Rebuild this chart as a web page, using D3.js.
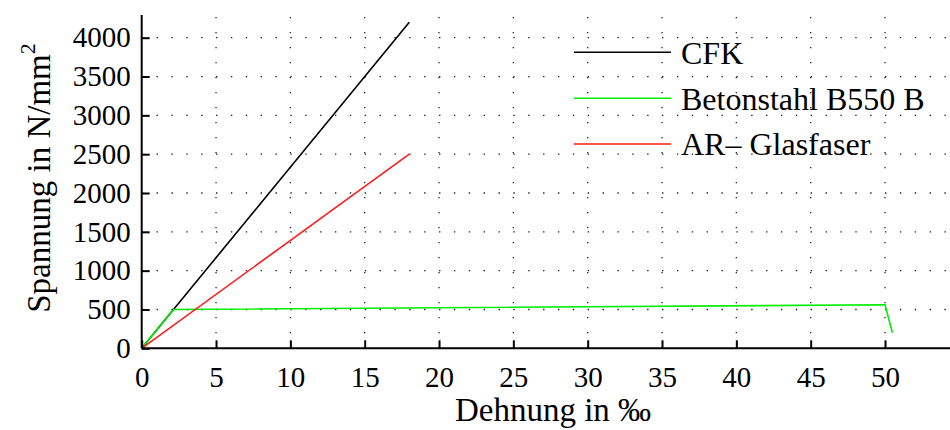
<!DOCTYPE html>
<html>
<head>
<meta charset="utf-8">
<script src="https://cdn.jsdelivr.net/npm/d3@7.9.0/dist/d3.min.js"></script>
<style>
  body { margin: 0; background: #fff; }
  svg { display: block; }
  svg text { font-family: "Liberation Serif", "DejaVu Serif", "Noto Serif", Tinos, "Nimbus Roman", FreeSerif, "Times New Roman", Times, serif; }
</style>
</head>
<body>
<svg id="chart" width="950" height="430"></svg>
<script>
// data (strain in per mille, stress in N/mm^2)
const seriesNames = ['CFK', 'Betonstahl B550 B', 'AR\u2013 Glasfaser'];
const seriesColors = ['#000000', '#00ee00', '#ff1a1a'];
const cfkStrain = [0, 18];
const cfkStress = [0, 4200];
const stahlStrain = [0, 2.15, 50, 50.5];
const stahlStress = [0, 500, 560, 200];
const glasStrain = [0, 18];
const glasStress = [0, 2500];
const xTicks = [0, 5, 10, 15, 20, 25, 30, 35, 40, 45, 50];
const yTicks = [0, 500, 1000, 1500, 2000, 2500, 3000, 3500, 4000];

const svg = d3.select('#chart');
const plotLeft = 141.7, plotBottom = 348.3, plotTop = 15, plotRight = 950;

const x = d3.scaleLinear().domain([0, 55]).range([plotLeft, plotLeft + 55 * 14.866]);
const y = d3.scaleLinear().domain([0, 4000]).range([plotBottom, 37.7]);

// dotted grid
const grid = svg.append('g');
const unit = x(1) - x(0);
xTicks.filter(d => d > 0).forEach(d => {
  grid.append('line')
    .attr('x1', x(d)).attr('x2', x(d))
    .attr('y1', plotBottom).attr('y2', plotTop)
    .attr('stroke', '#222').attr('stroke-width', 1.3)
    .attr('stroke-dasharray', '1.4,13.6');
});
yTicks.filter(d => d > 0).forEach(d => {
  grid.append('line')
    .attr('x1', plotLeft).attr('x2', plotRight)
    .attr('y1', y(d)).attr('y2', y(d))
    .attr('stroke', '#222').attr('stroke-width', 1.3)
    .attr('stroke-dasharray', `1.4,${unit - 1.4}`);
});

// series
const line = d3.line().x(d => x(d[0])).y(d => y(d[1]));
const series = [
  d3.zip(cfkStrain, cfkStress),
  d3.zip(stahlStrain, stahlStress),
  d3.zip(glasStrain, glasStress)
];
series.forEach((pts, i) => {
  svg.append('path')
    .attr('d', line(pts))
    .attr('fill', 'none')
    .attr('stroke', seriesColors[i])
    .attr('stroke-width', 1.6);
});

// axes (ticks point inward)
const xAxis = d3.axisBottom(x).tickValues(xTicks).tickFormat(d3.format('d'))
  .tickSize(-8).tickPadding(18).tickSizeOuter(0);
const yAxis = d3.axisLeft(y).tickValues(yTicks).tickFormat(d3.format('d'))
  .tickSize(-8).tickPadding(11).tickSizeOuter(0);

const gx = svg.append('g').attr('transform', `translate(0,${plotBottom})`).call(xAxis);
gx.select('.domain').attr('d', `M${plotLeft},0H${plotRight}`);
const gy = svg.append('g').attr('transform', `translate(${plotLeft},0)`).call(yAxis);
gy.select('.domain').attr('d', `M0,${plotBottom}V${plotTop}`);

[gx, gy].forEach(g => {
  g.attr('font-family', null).attr('font-size', null);
  g.select('.domain').attr('stroke', '#000').attr('stroke-width', 2);
  g.selectAll('.tick line').attr('stroke', '#000').attr('stroke-width', 2);
  g.selectAll('.tick text')
    .attr('fill', '#000')
    .style('font-size', '29px');
});
gx.selectAll('.tick text').attr('dy', '0.71em');

// axis titles
svg.append('text')
  .attr('x', 553).attr('y', 421)
  .attr('text-anchor', 'middle')
  .style('font-size', '33px')
  .text('Dehnung in \u2030');

const yt = svg.append('text')
  .attr('transform', 'translate(50,178) rotate(-90)')
  .attr('text-anchor', 'middle')
  .style('font-size', '33px');
yt.append('tspan').text('Spannung in N/mm');
yt.append('tspan').attr('dy', -15).style('font-size', '22px').text('2');

// legend
const legend = svg.append('g');
const legendY = [52.3, 98.3, 144];
seriesNames.forEach((name, i) => {
  legend.append('line')
    .attr('x1', 574).attr('x2', 671)
    .attr('y1', legendY[i]).attr('y2', legendY[i])
    .attr('stroke', seriesColors[i]).attr('stroke-width', 1.6);
  legend.append('text')
    .attr('x', 681).attr('y', legendY[i])
    .attr('dy', '0.35em')
    .style('font-size', '32px')
    .text(name);
});
</script>
</body>
</html>
